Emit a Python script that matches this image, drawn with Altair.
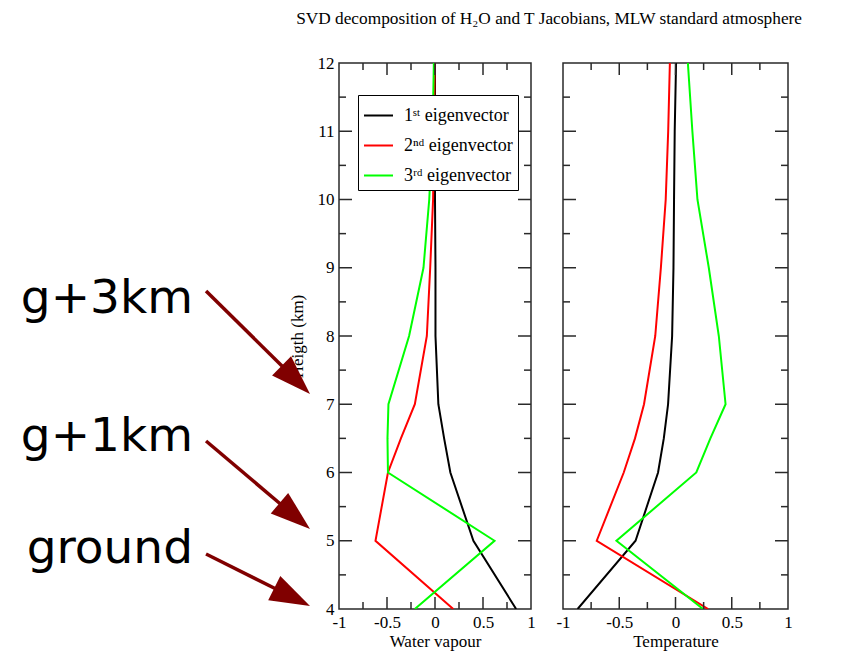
import altair as alt
import pandas as pd

# ---------------- data ----------------
heights = [4, 5, 6, 6.5, 7, 8, 9, 10, 11, 12]
series_names = ["1ˢᵗ eigenvector", "2ⁿᵈ eigenvector", "3ʳᵈ eigenvector"]

# Water vapour Jacobian eigenvectors
wv_1st = [0.845, 0.40, 0.16, 0.095, 0.035, 0.005, 0.005, 0.0, 0.0, 0.0]
wv_2nd = [0.19, -0.62, -0.49, -0.355, -0.21, -0.085, -0.05, -0.02, -0.01, -0.004]
wv_3rd = [-0.21, 0.62, -0.49, -0.495, -0.485, -0.27, -0.12, -0.06, -0.025, -0.012]

# Temperature Jacobian eigenvectors
t_1st = [-0.87, -0.355, -0.155, -0.104, -0.066, -0.03, -0.018, -0.013, -0.007, 0.005]
t_2nd = [0.29, -0.70, -0.46, -0.36, -0.28, -0.18, -0.13, -0.087, -0.065, -0.05]
t_3rd = [0.245, -0.525, 0.185, 0.31, 0.445, 0.385, 0.296, 0.195, 0.15, 0.11]

x_tick_labels = [-1, -0.5, 0, 0.5, 1]
x_major_ticks = [-0.5, 0, 0.5]
x_minor_ticks = [-0.75, -0.25, 0.25, 0.75]
y_tick_labels = [4, 5, 6, 7, 8, 9, 10, 11, 12]
y_major_ticks = [5, 6, 7, 8, 9, 10, 11]
y_minor_ticks = [4.5, 5.5, 6.5, 7.5, 8.5, 9.5, 10.5, 11.5]

# annotations (in water-vapour axis units / km)
ann_labels = ["g+3km", "g+1km", "ground"]
ann_text_x = [-2.521, -2.521, -2.521]
ann_text_h = [8.341, 6.315, 4.674]
arrow_tail_x = [-2.385, -2.385, -2.385]
arrow_tail_h = [8.659, 6.462, 4.806]
arrow_base_x = [-1.583, -1.604, -1.656]
arrow_base_h = [7.546, 5.531, 4.293]
arrow_tip_x = [-1.302, -1.302, -1.302]
arrow_tip_h = [7.150, 5.172, 4.044]
arrow_angle = [44.7, 40.2, 26.6]

title_text = "SVD decomposition of H₂O and T Jacobians, MLW standard atmosphere"

# ---------------- helpers ----------------
SERIF = "Liberation Serif"
W_L, W_R, H = 192, 225, 546
colors = ["black", "#ff0000", "#00ff00"]
tick_color = "#2a2a2a"


def long_df(vals):
    rows = []
    for name, v in zip(series_names, vals):
        for h, x in zip(heights, v):
            rows.append({"series": name, "h": h, "x": x})
    return pd.DataFrame(rows)


xs = alt.Scale(domain=[-1, 1], nice=False, zero=False)
ys = alt.Scale(domain=[4, 12], nice=False, zero=False)


def x_axis(title):
    return alt.Axis(
        values=x_tick_labels, labelExpr="'' + datum.value", labelFlush=False,
        labelOverlap=False, ticks=False, domain=False, grid=False, title=title,
        labelFont=SERIF, labelFontSize=17, labelColor="black", labelPadding=5,
        titleFont=SERIF, titleFontSize=17, titleFontWeight="normal",
        titleColor="black", titlePadding=3,
    )


y_axis_left = alt.Axis(
    values=y_tick_labels, ticks=False, domain=False, grid=False,
    title="Heigth (km)", labelFont=SERIF, labelFontSize=17, labelColor="black",
    labelPadding=5, titleFont=SERIF, titleFontSize=17, titleFontWeight="normal",
    titleColor="black", titlePadding=11,
)


def tick_layers(W, X, Y):
    layers = []
    for vals, L in [(x_major_ticks, 12), (x_minor_ticks, 7)]:
        df = pd.DataFrame({"x": vals})
        base = alt.Chart(df).mark_rule(color=tick_color, strokeWidth=1.5)
        layers.append(base.encode(x=X, y=alt.value(H), y2=alt.value(H - L)))
        layers.append(base.encode(x=X, y=alt.value(0), y2=alt.value(L)))
    for vals, L in [(y_major_ticks, 13), (y_minor_ticks, 7)]:
        df = pd.DataFrame({"h": vals})
        base = alt.Chart(df).mark_rule(color=tick_color, strokeWidth=1.5)
        layers.append(base.encode(y=Y, x=alt.value(0), x2=alt.value(L)))
        layers.append(base.encode(y=Y, x=alt.value(W), x2=alt.value(W - L)))
    return layers


# ---------------- left panel ----------------
XL = alt.X("x:Q", scale=xs, axis=x_axis("Water vapour"))
YL = alt.Y("h:Q", scale=ys, axis=y_axis_left)

legend = alt.Legend(
    orient="none", legendX=19, legendY=32, title=None, symbolType="stroke",
    symbolSize=841, symbolStrokeWidth=2, labelFont=SERIF, labelFontSize=18,
    labelColor="black", strokeColor="black", fillColor="white", padding=5,
    rowPadding=5, labelOffset=10, offset=0,
)

lines_left = alt.Chart(long_df([wv_1st, wv_2nd, wv_3rd])).mark_line(
    strokeWidth=2, clip=True
).encode(
    x=XL, y=YL,
    color=alt.Color("series:N", scale=alt.Scale(domain=series_names, range=colors), legend=legend),
    order=alt.Order("h:Q"),
    detail="series:N",
)

ann_df = pd.DataFrame({"label": ann_labels, "x": ann_text_x, "h": ann_text_h})
texts = alt.Chart(ann_df).mark_text(
    align="right", baseline="alphabetic", font="DejaVu Sans", fontSize=47, color="black"
).encode(x=XL, y=YL, text="label:N")

arrow_df = pd.DataFrame({
    "x": arrow_tail_x, "h": arrow_tail_h,
    "x2": arrow_base_x, "h2": arrow_base_h,
})
shafts = alt.Chart(arrow_df).mark_rule(color="#800000", strokeWidth=3.5).encode(
    x=XL, y=YL, x2="x2:Q", y2="h2:Q"
)

head_df = pd.DataFrame({"x": arrow_tip_x, "h": arrow_tip_h, "angle": arrow_angle})
heads = alt.Chart(head_df).mark_point(
    shape="M0,0L-2,-0.675L-2,0.675Z", filled=True, size=1600, color="#800000",
    opacity=1, strokeWidth=0,
).encode(x=XL, y=YL, angle=alt.Angle("angle:Q", scale=None))

left = alt.layer(
    lines_left, *tick_layers(W_L, XL, YL), shafts, heads, texts
).properties(width=W_L, height=H)

# ---------------- right panel ----------------
XR = alt.X("x:Q", scale=xs, axis=x_axis("Temperature"))
YR = alt.Y("h:Q", scale=ys, axis=None)

lines_right = alt.Chart(long_df([t_1st, t_2nd, t_3rd])).mark_line(
    strokeWidth=2, clip=True
).encode(
    x=XR, y=YR,
    color=alt.Color("series:N", scale=alt.Scale(domain=series_names, range=colors), legend=None),
    order=alt.Order("h:Q"),
    detail="series:N",
)

right = alt.layer(lines_right, *tick_layers(W_R, XR, YR)).properties(width=W_R, height=H)

chart = alt.hconcat(left, right, spacing=19).resolve_scale(
    x="independent", y="independent", color="independent"
).properties(
    title=alt.TitleParams(
        title_text, font=SERIF, fontSize=17.3, fontWeight="normal", color="black",
        anchor="end", baseline="alphabetic", offset=12, dx=9,
    ),
    padding={"left": 20, "top": 9, "right": 5, "bottom": 5},
    background="white",
).configure_view(stroke="#2a2a2a", strokeWidth=1.5)

chart.save("out.html", embed_options={"renderer": "svg", "actions": False})
